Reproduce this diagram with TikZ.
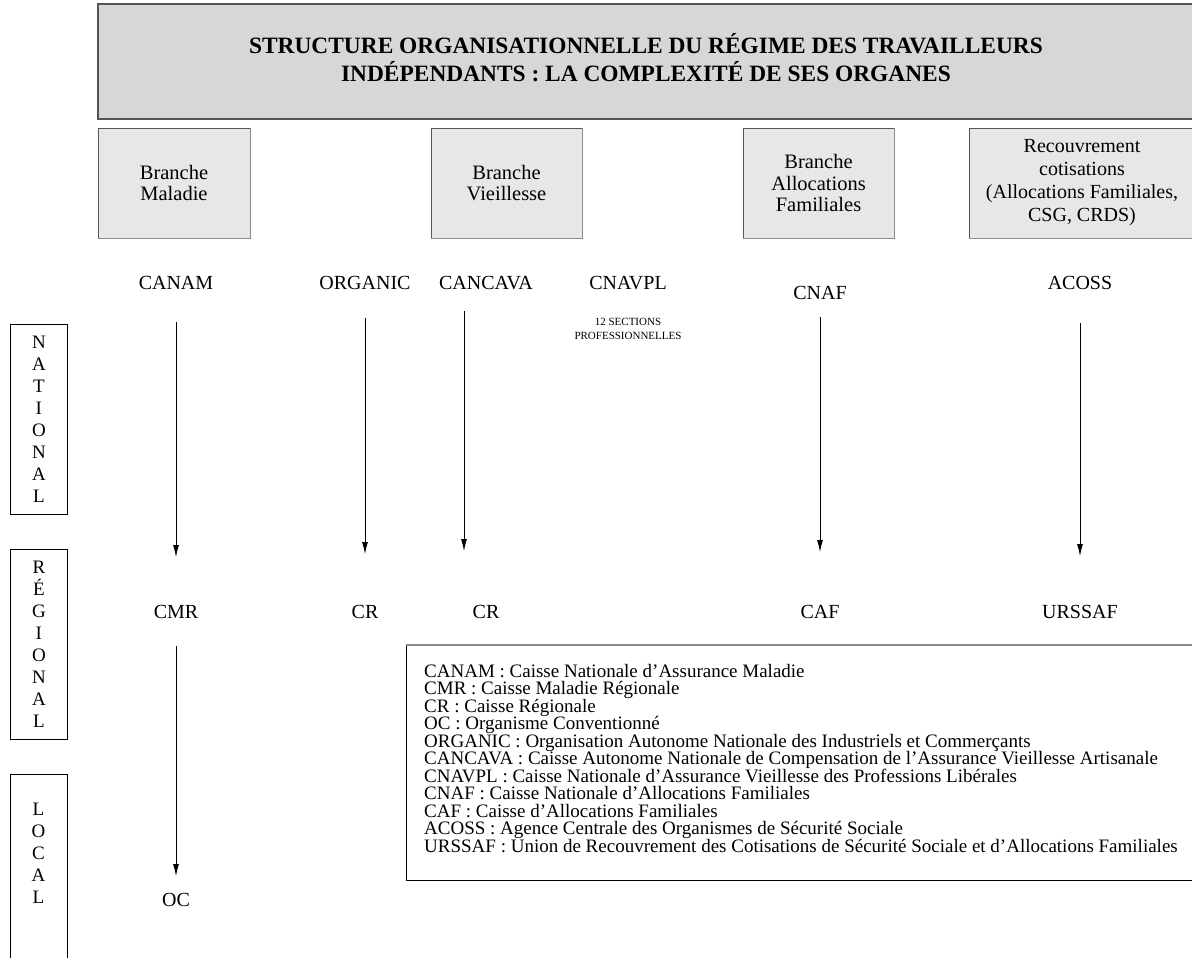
\documentclass[tikz,border=0pt]{standalone}
\usepackage{fontspec}
\setmainfont{Liberation Serif}
\usetikzlibrary{arrows.meta}
\definecolor{boxgray}{HTML}{D6D7D9}
\definecolor{lightbox}{HTML}{E6E7E8}
\definecolor{edgegray}{HTML}{555555}
\definecolor{shadowgray}{HTML}{8A8A8A}
\tikzset{
  titlebox/.style={draw=edgegray, line width=1.2pt, fill=boxgray},
  branchbox/.style={draw=edgegray, line width=0.8pt, fill=lightbox, minimum height=110pt, align=center, font=\fontsize{20.5}{21.5}\selectfont, inner sep=0pt},
  lbl/.style={font=\fontsize{20}{22}\selectfont, inner sep=0pt, anchor=center},
  lvl/.style={draw=black, line width=0.8pt, minimum width=57pt, align=center, font=\fontsize{19}{22}\selectfont, anchor=north west, inner sep=0pt},
  arr/.style={line width=0.8pt, -{Latex[length=12pt,width=6pt]}},
}
\begin{document}
\begin{tikzpicture}[x=1pt,y=-1pt]
\useasboundingbox (0,0) rectangle (1192,958);
% title
\draw[titlebox] (98,4) rectangle (1196,119);
\node[font=\bfseries\fontsize{23.4}{28}\selectfont, align=center] (title) at (646,58)
  {STRUCTURE ORGANISATIONNELLE DU RÉGIME DES TRAVAILLEURS\\INDÉPENDANTS : LA COMPLEXITÉ DE SES ORGANES};
% branch boxes
\node[branchbox, minimum width=152pt] (bm) at (174,183) {Branche\\Maladie};
\node[branchbox, minimum width=151pt] (bv) at (506.5,183) {Branche\\Vieillesse};
\node[branchbox, minimum width=151pt] (baf) at (818.5,183) {Branche\\Allocations\\Familiales};
\node[branchbox, minimum width=226pt, font=\fontsize{20}{23}\selectfont] (brec) at (1082,183) {Recouvrement\\cotisations\\(Allocations Familiales,\\CSG, CRDS)};
\draw[shadowgray, line width=1.5pt] (98,238.5) -- (250.5,238.5) -- (250.5,128);
\draw[shadowgray, line width=1.5pt] (431,238.5) -- (582.5,238.5) -- (582.5,128);
\draw[shadowgray, line width=1.5pt] (743,238.5) -- (894.5,238.5) -- (894.5,128);
\draw[shadowgray, line width=1.5pt] (969,238.5) -- (1196,238.5);
% national labels
\node[lbl] (canam) at (176,283) {CANAM};
\node[lbl] (organic) at (365,283) {ORGANIC};
\node[lbl] (cancava) at (486,283) {CANCAVA};
\node[lbl] (cnavpl) at (628,283) {CNAVPL};
\node[lbl] (cnaf) at (820,293) {CNAF};
\node[lbl] (acoss) at (1080,283) {ACOSS};
\node[font=\fontsize{11}{14}\selectfont, align=center, inner sep=0pt] (sect) at (628,329) {12 SECTIONS\\PROFESSIONNELLES};
% regional labels
\node[lbl] (cmr) at (176,612) {CMR};
\node[lbl] (cr1) at (365,612) {CR};
\node[lbl] (cr2) at (486,612) {CR};
\node[lbl] (caf) at (820,612) {CAF};
\node[lbl] (urssaf) at (1080,612) {URSSAF};
\node[lbl] (oc) at (176,900) {OC};
% arrows
\coordinate (cvs) at (464,311);
\coordinate (cve) at (464,551);
\draw[arr, shorten <=39pt, shorten >=55pt] (canam.center) -- (cmr.center);
\draw[arr, shorten <=35pt, shorten >=58pt] (organic.center) -- (cr1.center);
\draw[arr] (cvs) -- (cve);
\draw[arr, shorten <=24pt, shorten >=60pt] (cnaf.center) -- (caf.center);
\draw[arr, shorten <=40pt, shorten >=56pt] (acoss.center) -- (urssaf.center);
\draw[arr, shorten <=34pt, shorten >=24pt] (cmr.center) -- (oc.center);
% level boxes
\node[lvl, minimum height=190pt] (nat) at (10,324) {N\\A\\T\\I\\O\\N\\A\\L};
\node[lvl, minimum height=190pt] (reg) at (10,549) {R\\É\\G\\I\\O\\N\\A\\L};
\draw[line width=0.8pt] (10,962) |- (67,774) -- (67,962);
\node[font=\fontsize{19}{22}\selectfont, align=center] (loc) at (38.5,853) {L\\O\\C\\A\\L};
% legend
\draw[line width=0.8pt] (406,880) -- (406,645);
\draw[shadowgray, line width=2pt] (405.6,645) -- (1196,645);
\draw[line width=0.8pt] (406,880) -- (1196,880);
\node[anchor=north west, align=left, inner sep=0pt, font=\fontsize{19}{17.5}\selectfont] (legend) at (424,664) {%
CANAM : Caisse Nationale d’Assurance Maladie\\
CMR : Caisse Maladie Régionale\\
CR : Caisse Régionale\\
OC : Organisme Conventionné\\
ORGANIC : Organisation Autonome Nationale des Industriels et Commerçants\\
CANCAVA : Caisse Autonome Nationale de Compensation de l’Assurance Vieillesse Artisanale\\
CNAVPL : Caisse Nationale d’Assurance Vieillesse des Professions Libérales\\
CNAF : Caisse Nationale d’Allocations Familiales\\
CAF : Caisse d’Allocations Familiales\\
ACOSS : Agence Centrale des Organismes de Sécurité Sociale\\
URSSAF : Union de Recouvrement des Cotisations de Sécurité Sociale et d’Allocations Familiales};
\end{tikzpicture}
\end{document}
